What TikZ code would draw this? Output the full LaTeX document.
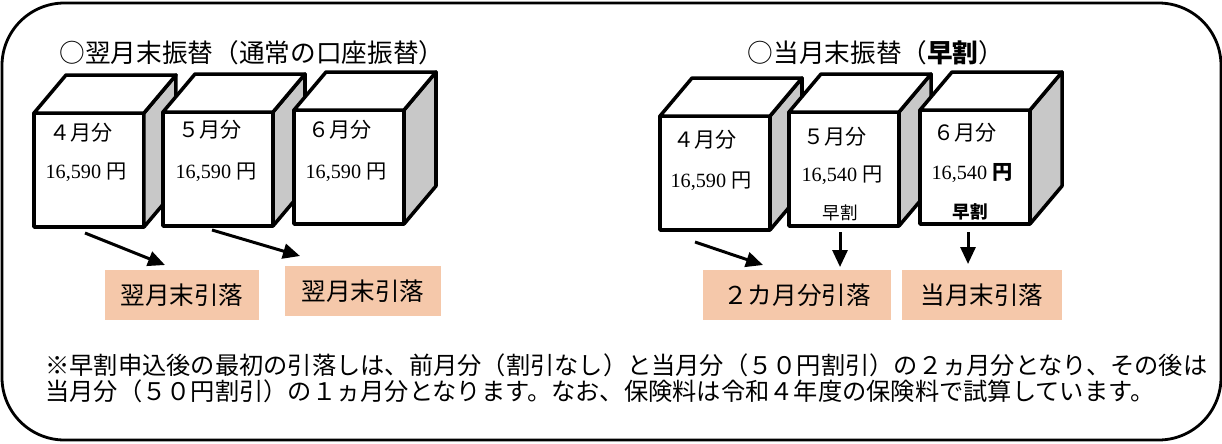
\documentclass[tikz,border=0pt]{standalone}
\usepackage{fontspec}
\usepackage{xcolor}
\usepackage{tikz}
\usetikzlibrary{arrows.meta}
\usetikzlibrary{positioning}
\newfontfamily\jp{Noto Sans CJK JP}
\newfontfamily\num{Liberation Serif}
\definecolor{peach}{RGB}{245,200,170}
\definecolor{sidegray}{RGB}{200,200,200}

\begin{document}
\begin{tikzpicture}[x=0.02cm, y=-0.02cm, line join=round]
\tikzset{front/.style = {draw, fill=white, line width=2pt, minimum width=2.2cm, minimum height=2.28cm, inner sep=0pt, outer sep=0pt}}
\tikzset{face/.style = {draw, line width=2pt}}
\tikzset{month/.style = {font=\jp\fontsize{12}{14}\selectfont, inner sep=0pt}}
\tikzset{amount/.style = {font=\num\fontsize{11.5}{13}\selectfont, inner sep=0pt}}
\tikzset{tag/.style = {font=\jp\fontsize{10}{12}\selectfont, inner sep=0pt}}
\tikzset{debit/.style = {fill=peach, font=\jp\fontsize{14}{16}\selectfont, inner sep=0pt, outer sep=0pt}}
\tikzset{arr/.style = {line width=1.7pt, -{Triangle[length=0.34cm, width=0.3cm]}}}
\useasboundingbox (0,0) rectangle (1222,443);
  % frame
  \draw[line width=1.6pt, rounded corners=1.25cm] (2,3) rectangle (1221,440);
  \node[font=\jp\fontsize{14.6}{17}\selectfont] (tl) at (252,53) {○翌月末振替（通常の口座振替）};
  \node[font=\jp\fontsize{14.6}{17}\selectfont] (tr) at (876,53) {○当月末振替（{\bfseries 早割}）};
  % cubes
  \foreach \n/\x/\y in {1/89/170, 2/218/169, 3/349/167, 4/715/173, 5/844/169, 6/975/167}{
    \node[front] (b\n) at (\x,\y) {};
    \draw[face, fill=sidegray] (b\n.north east) -- ++(32,-38) -- ++(0,114) -- (b\n.south east) -- cycle;
    \draw[face, fill=white] (b\n.north west) -- ++(32,-38) -- ++(110,0) -- (b\n.north east) -- cycle;
  }
  \node[month] (m1) at (81,133) {４月分};
  \node[month] (m2) at (210,130) {５月分};
  \node[month] (m3) at (340,130) {６月分};
  \node[month] (m4) at (705,140) {４月分};
  \node[month] (m5) at (835,137) {５月分};
  \node[month] (m6) at (965,133) {６月分};
  \node[amount] (p1) at (86,172) {16,590 {\jp 円}};
  \node[amount] (p2) at (216,172) {16,590 {\jp 円}};
  \node[amount] (p3) at (346,172) {16,590 {\jp 円}};
  \node[amount] (p4) at (711,181) {16,590 {\jp 円}};
  \node[amount] (p5) at (842,175) {16,540 {\jp 円}};
  \node[amount] (p6) at (972,173) {16,540 {\jp\bfseries 円}};
  \node[tag] (e5) at (840,213) {早割};
  \node[tag] (e6) at (970,212) {\bfseries 早割};
  % debit boxes
  \node[debit, minimum width=3.1cm, minimum height=1cm] (oA) at (182,295) {翌月末引落};
  \node[debit, minimum width=3.12cm, minimum height=1cm] (oB) at (363,291) {翌月末引落};
  \node[debit, minimum width=3.76cm, minimum height=1cm] (oC) at (797,295) {２カ月分引落};
  \node[debit, minimum width=3.2cm, minimum height=1cm] (oD) at (982,295) {当月末引落};
  \coordinate (s1) at (85,233);
  \coordinate (s2) at (212,230);
  \coordinate (s3) at (695,242);
  \coordinate (s4) at (840,232);
  \coordinate (s5) at (968,232);
  \draw[arr] (s1) -- ([shift={(-17,-5)}]oA.north);
  \draw[arr] (s2) -- ([shift={(-63,-10)}]oB.north);
  \draw[arr] (s3) -- ([shift={(-34,-5)}]oC.north);
  \draw[arr] (s4) -- ([shift={(43,-3)}]oC.north);
  \draw[arr] (s5) -- ([shift={(-14,-6)}]oD.north);
  % note
  \node[anchor=west, font=\jp\fontsize{13.8}{16}\selectfont, inner sep=0pt] (n1) at (45,365) {※早割申込後の最初の引落しは、前月分（割引なし）と当月分（５０円割引）の２ヵ月分となり、その後は};
  \node[anchor=west, font=\jp\fontsize{13.8}{16}\selectfont, inner sep=0pt] (n2) at (45,391) {当月分（５０円割引）の１ヵ月分となります。なお、保険料は令和４年度の保険料で試算しています。};
\end{tikzpicture}
\end{document}
